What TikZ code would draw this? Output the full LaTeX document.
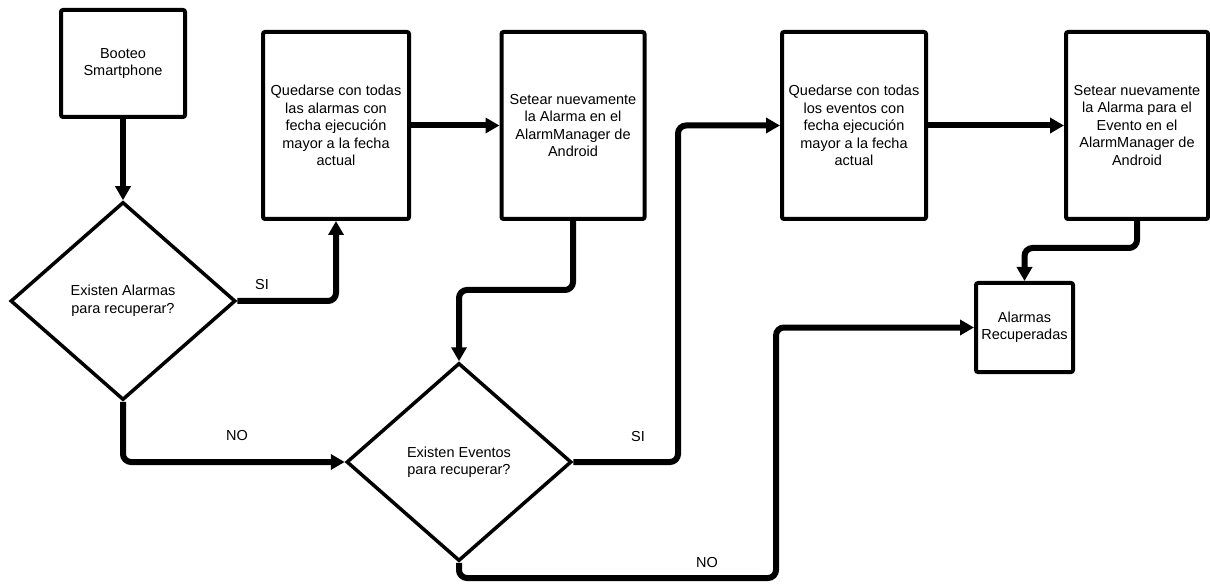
\documentclass[tikz,border=0pt]{standalone}
\usepackage{fontspec}
\setmainfont{Liberation Sans}
\usetikzlibrary{shapes.geometric,arrows.meta}

\begin{document}
\begin{tikzpicture}[
    x=1pt, y=-1pt,
    every node/.style={font=\fontsize{14.5}{17.5}\selectfont},
    procbox/.style={rectangle, draw=black, line width=4pt, rounded corners=2pt, align=center, inner sep=0pt},
    decision/.style={diamond, draw=black, line width=3.5pt, align=center, inner sep=0pt, minimum width=225pt, minimum height=198pt},
    directed/.style={-{Triangle[length=14pt,width=15pt]}, line width=6pt, rounded corners=8pt}
]
    \useasboundingbox (0,0) rectangle (1210,585);

    % Nodes
    \node[procbox, minimum width=124pt, minimum height=107pt] (boot) at (123,63.5) {Booteo\\Smartphone};
    \node[procbox, minimum width=146pt, minimum height=187pt] (filtalarm) at (336,125.5) {Quedarse con todas\\las alarmas con\\fecha ejecución\\mayor a la fecha\\actual};
    \node[procbox, minimum width=143pt, minimum height=187pt] (setalarm) at (573,125.5) {Setear nuevamente\\la Alarma en el\\AlarmManager de\\Android};
    \node[procbox, minimum width=144pt, minimum height=187pt] (filtevent) at (854,125.5) {Quedarse con todas\\los eventos con\\fecha ejecución\\mayor a la fecha\\actual};
    \node[procbox, minimum width=142pt, minimum height=187pt] (setevent) at (1137,125.5) {Setear nuevamente\\la Alarma para el\\Evento en el\\AlarmManager de\\Android};
    \node[procbox, minimum width=97pt, minimum height=89pt] (done) at (1024.5,327.5) {Alarmas\\Recuperadas};

    \node[decision] (dalarm) at (123,301) {Existen Alarmas\\para recuperar?};
    \node[decision] (devent) at (459,462) {Existen Eventos\\para recuperar?};

    % Labels
    \node (si1) at (262,285) {SI};
    \node (no1) at (237,436) {NO};
    \node (si2) at (638,437) {SI};
    \node (no2) at (707,563) {NO};

    % Arrows
    \draw[directed] (boot) -- (dalarm);
    \draw[directed] (dalarm.east) -| (filtalarm.south);
    \draw[directed] (filtalarm) -- (setalarm);
    \draw[directed] (setalarm.south) -- (573,290) -| (devent.north);
    \draw[directed] (dalarm.south) |- (devent.west);
    \draw[directed] (devent.east) -- (678,462) |- (filtevent.west);
    \draw[directed] (filtevent) -- (setevent);
    \draw[directed] (setevent.south) -- (1137,248) -| (done.north);
    \draw[directed] (devent.south) |- (776,578) |- (done.west);
\end{tikzpicture}
\end{document}
